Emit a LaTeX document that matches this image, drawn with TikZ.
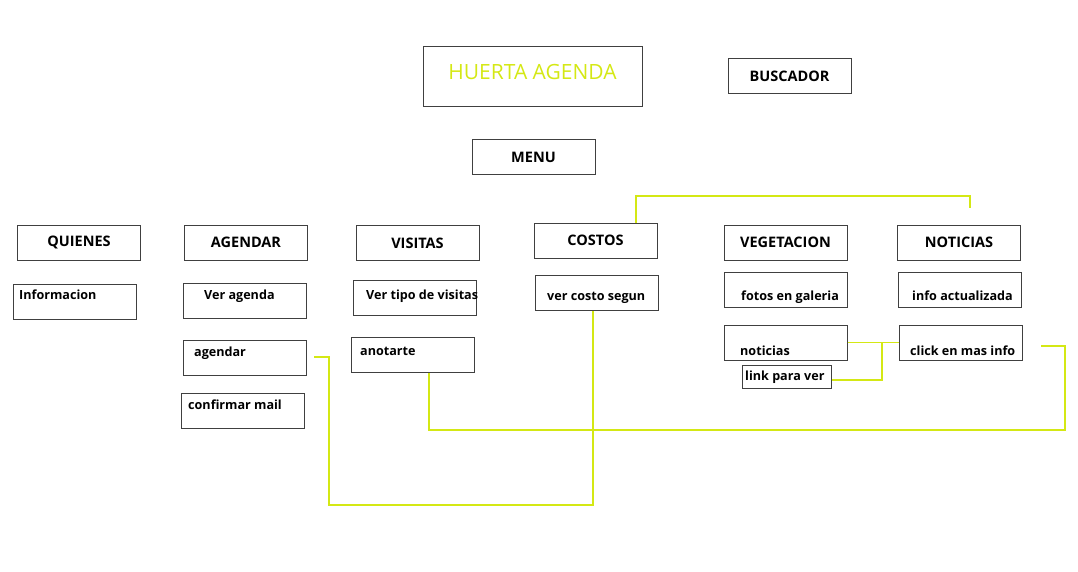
\documentclass[tikz,border=0pt]{standalone}
\usepackage{fontspec}
\setmainfont{Open Sans}
\usepackage{tikz}
\definecolor{lima}{RGB}{212,232,20}
\tikzstyle{box}=[draw=black!75,line width=1pt,minimum width=123pt,minimum height=35pt,inner sep=0pt]
\tikzstyle{head}=[box,font=\bfseries\fontsize{14.5}{17}\selectfont]
\tikzstyle{txt}=[anchor=base west,inner sep=0pt,font=\bfseries\fontsize{12.6}{15}\selectfont]
\tikzstyle{link}=[draw=lima,line width=1.2pt]

\begin{document}
\begin{tikzpicture}[x=1pt,y=-1pt]
    \useasboundingbox (0,0) rectangle (1078,572);
    \node[box,minimum width=219pt,minimum height=60pt] (HA) at (532.5,77) {};
    \node[font=\fontsize{21}{24}\selectfont,text=lima,inner sep=0pt] (HAt) at (532.5,72.5) {HUERTA AGENDA};
    \node[head] (BU) at (789.5,76) {BUSCADOR};
    \node[head] (ME) at (533.5,157) {MENU};
    % columnas
    \node[head] (QU) at (79,242.5) {QUIENES};
    \node[head] (AG) at (246,242.5) {AGENDAR};
    \node[head] (VI) at (417.5,243) {VISITAS};
    \node[head] (CO) at (595.5,240.5) {COSTOS};
    \node[head] (VE) at (785.5,242.5) {VEGETACION};
    \node[head] (NO) at (959,242.5) {NOTICIAS};
    % subitems
    \node[box] (QU1) at (75,301.5) {};
    \node[txt] (QU1t) at (19,299) {Informacion};
    \node[box] (AG1) at (244.5,300.5) {};
    \node[txt] (AG1t) at (204,299) {Ver agenda};
    \node[box] (AG2) at (244.5,357.5) {};
    \node[txt] (AG2t) at (194,356) {agendar};
    \node[box] (AG3) at (243,411) {};
    \node[txt] (AG3t) at (188,409) {confirmar mail};
    \node[box] (VI1) at (415,298) {};
    \node[txt] (VI1t) at (366,299) {Ver tipo de visitas};
    \node[box] (VI2) at (413,354.5) {};
    \node[txt] (VI2t) at (360,355) {anotarte};
    \node[box] (CO1) at (596.5,293) {};
    \node[txt] (CO1t) at (547,300) {ver costo segun};
    \node[box] (VE1) at (785.5,290) {};
    \node[txt] (VE1t) at (741,300) {fotos en galeria};
    \node[box] (VE2) at (785.5,342.5) {};
    \node[txt] (VE2t) at (740,355) {noticias};
    \node[box,minimum width=89pt,minimum height=23pt] (VE3) at (786.5,376.5) {};
    \node[txt] (VE3t) at (745,380) {link para ver};
    \node[box] (NO1) at (960,290) {};
    \node[txt] (NO1t) at (912,300) {info actualizada};
    \node[box] (NO2) at (960.5,342.5) {};
    \node[txt] (NO2t) at (910,355) {click en mas info};
    % lineas amarillas
    \coordinate (L1) at (970,208);
    \coordinate (L2) at (314,357);
    \coordinate (L3) at (1041,346);
    \coordinate (L4) at (882,342.5);
    \draw[link] ([xshift=40.5pt]CO.north) -- ([xshift=40.5pt]CO.north |- 0,196) -| (L1);
    \draw[link] (L2) -| (329,505) -| ([xshift=-3.5pt]CO1.south);
    \draw[link] ([xshift=16pt]VI2.south) |- (1065,430) |- (L3);
    \draw[link] (VE2.east) -- (NO2.west);
    \draw[link] (L4) |- ([yshift=-3.5pt]VE3.east);
\end{tikzpicture}
\end{document}
